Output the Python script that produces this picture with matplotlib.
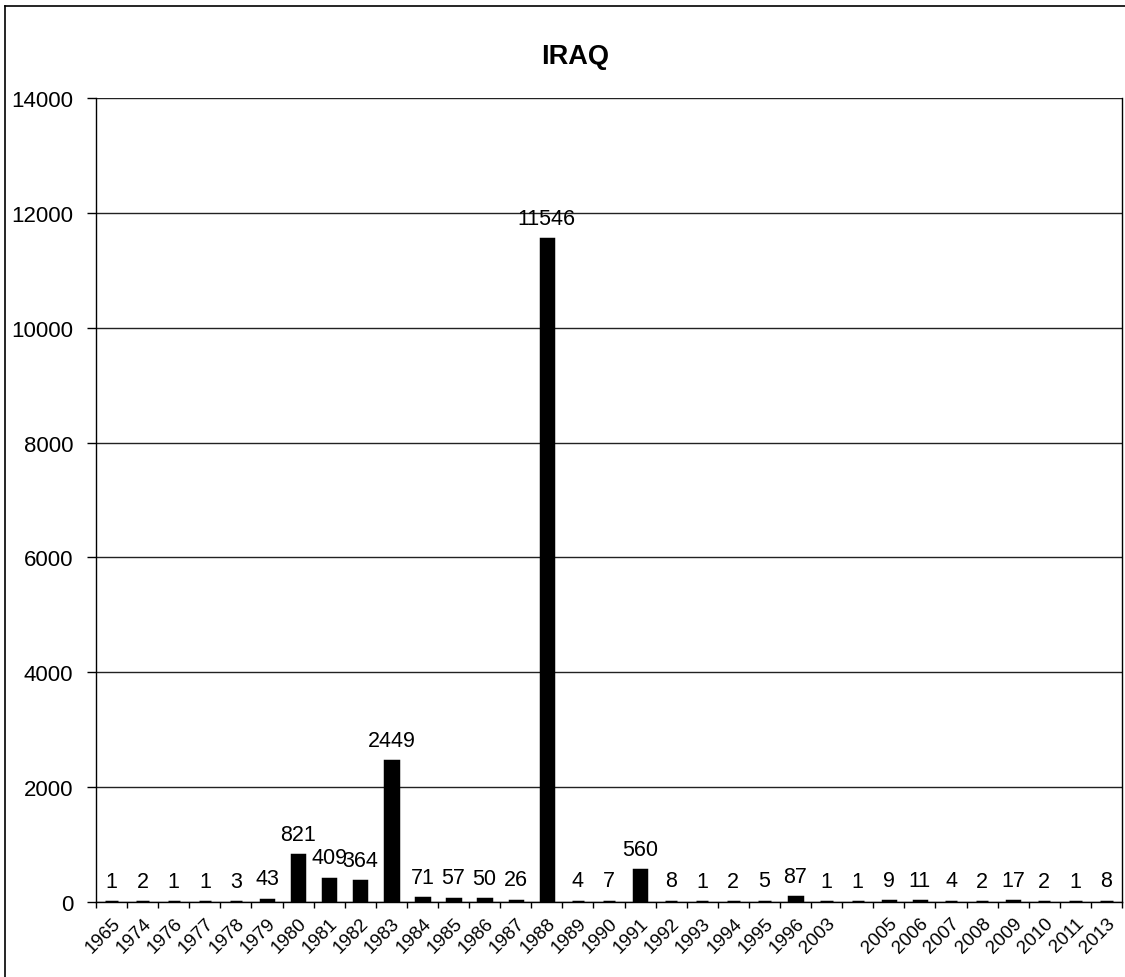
import matplotlib
matplotlib.use("Agg")
import matplotlib.pyplot as plt
import numpy as np
from matplotlib.lines import Line2D

plt.rcParams['font.family'] = ['Liberation Sans', 'DejaVu Sans']

years = ['1965', '1974', '1976', '1977', '1978', '1979', '1980', '1981', '1982',
         '1983', '1984', '1985', '1986', '1987', '1988', '1989', '1990', '1991',
         '1992', '1993', '1994', '1995', '1996', '2003', '', '2005', '2006',
         '2007', '2008', '2009', '2010', '2011', '2013']
counts = [1, 2, 1, 1, 3, 43, 821, 409, 364, 2449, 71, 57, 50, 26, 11546, 4, 7,
          560, 8, 1, 2, 5, 87, 1, 1, 9, 11, 4, 2, 17, 2, 1, 8]
title = "IRAQ"

fig = plt.figure(figsize=(11.25, 9.78), dpi=100)
ax = fig.add_axes([96 / 1125, 75 / 978, 1026 / 1125, 804 / 978])

x = np.arange(len(years))
# black outline keeps the tiny bars visible, like the original
ax.bar(x, counts, width=0.40, color='black', edgecolor='black',
       linewidth=2.5, zorder=3)

# value labels above bars
for xi, v in zip(x, counts):
    ax.annotate(str(v), (xi, v), xytext=(0, 11), textcoords='offset points',
                ha='center', va='baseline', fontsize=15.5, zorder=4)

ax.set_xlim(-0.5, len(years) - 0.5)
ax.set_ylim(0, 14000)
ax.set_yticks(np.arange(0, 14001, 2000))
ax.tick_params(axis='y', labelsize=16, length=6.5, width=1, direction='out', pad=10)

# category ticks sit between bars, labels at the centres
ax.set_xticks(x)
ax.set_xticklabels(years, rotation=45, ha='right', va='top',
                   rotation_mode='anchor', fontsize=13.5)
ax.tick_params(axis='x', which='major', length=0, pad=9)
ax.set_xticks(np.arange(-0.5, len(years), 1.0), minor=True)
ax.tick_params(axis='x', which='minor', length=4, width=1, direction='out')

ax.yaxis.grid(True, color='#222222', linewidth=1)
ax.set_axisbelow(True)
ax.spines['top'].set_visible(False)
for s in ['left', 'bottom', 'right']:
    ax.spines[s].set_color('black')
    ax.spines[s].set_linewidth(1)

fig.text(575 / 1125, 1 - 57 / 978, title, ha='center', va='center',
         fontsize=19.5, fontweight='bold')

# outer chart border (left and top edges visible)
fig.add_artist(Line2D([4.5 / 1125, 4.5 / 1125], [0, 1 - 7 / 978],
                      transform=fig.transFigure, color='black', linewidth=1.2))
fig.add_artist(Line2D([4.5 / 1125, 1], [1 - 7 / 978, 1 - 7 / 978],
                      transform=fig.transFigure, color='black', linewidth=1.2))

fig.savefig("out.png", dpi=100, facecolor='white')
